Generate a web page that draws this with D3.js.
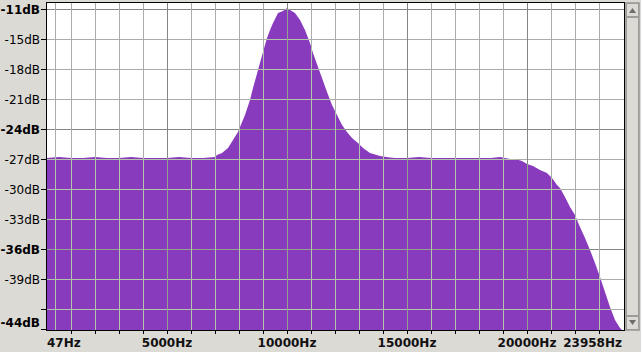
<!DOCTYPE html>
<html>
<head>
<meta charset="UTF-8">
<title>Spectrum</title>
<script src="https://cdn.jsdelivr.net/npm/d3@7"></script>
<style>
    body { margin: 0; background: #dcdad5; }
    svg { display: block; font-family: "DejaVu Sans", sans-serif; }
</style>
</head>
<body>
<div id="chart"></div>
<script>
    // spectrum: frequency (Hz) -> level (dB)
    const freqs = [47, 500, 1000, 1500, 2000, 2500, 3000, 3500, 4000, 4500, 5000, 5500, 6000, 6500, 7000,
        7083, 7292, 7542, 7750, 7958, 8042, 8250, 8458, 8583, 8792, 9000, 9167, 9292, 9417, 9625, 9833,
        10000, 10125, 10333, 10542, 10750, 10958, 11083, 11292, 11458, 11667, 11875, 12083, 12292, 12500,
        12708, 12958, 13167, 13458, 13875, 14292, 14500, 15000, 15500, 16000, 16500, 17000, 17500, 18000,
        18500, 18875, 19292, 19583, 19792, 20000, 20250, 20542, 20833, 21042, 21250, 21375, 21583, 21792,
        22000, 22208, 22417, 22625, 22833, 23042, 23250, 23458, 23667, 23875, 23958];
    const levels = [-26.9, -26.8, -26.9, -26.9, -26.8, -26.9, -26.9, -26.8, -26.9, -26.9, -26.9, -26.8, -26.9, -26.9, -26.8,
        -26.6, -26.4, -25.9, -25.1, -24.3, -23.8, -22.6, -21.1, -19.9, -18.1, -16.3, -14.9, -14.1, -13.4, -12.4, -12.2,
        -11.9, -12.1, -12.4, -13.1, -14.1, -15.4, -16.4, -17.8, -18.9, -20.3, -21.6, -22.6, -23.6, -24.3,
        -24.9, -25.4, -25.9, -26.4, -26.7, -26.85, -26.9, -26.9, -26.8, -26.9, -26.9, -26.9, -26.9, -26.9,
        -26.9, -26.8, -27.0, -27.05, -27.2, -27.5, -27.7, -28.1, -28.4, -28.9, -29.6, -29.9, -30.8, -31.8,
        -32.6, -33.8, -34.9, -36.1, -37.4, -38.8, -40.3, -41.8, -43.1, -43.9, -44.1];

    // axis ticks
    const dbTicks = [-12, -15, -18, -21, -24, -27, -30, -33, -36, -39, -42, -44];
    const dbLabels = ["-11dB", "-15dB", "-18dB", "-21dB", "-24dB", "-27dB", "-30dB", "-33dB", "-36dB", "-39dB", "", "-44dB"];
    const dbBold = [-12, -24, -36, -44];
    const dbGrid = [-12, -15, -18, -21, -24, -27, -30, -33, -36, -39, -42];
    const dbGridMajor = [-12, -24, -36];
    const hzGrid = [330, 1000, 2000, 3000, 4000, 5000, 6000, 7000, 8000, 9000, 10000, 11000, 12000,
        13000, 14000, 15000, 16000, 17000, 18000, 19000, 20000, 21000, 22000, 23000];
    const hzTicks = [1000, 2000, 3000, 4000, 5000, 6000, 7000, 8000, 9000, 10000, 11000, 12000,
        13000, 14000, 15000, 16000, 17000, 18000, 19000, 20000, 21000, 22000, 23000];
    const hzLabels = [47, 5000, 10000, 15000, 20000, 23958];

    const width = 641, height = 352;
    const plot = {left: 46.5, top: 2.5, right: 624.5, bottom: 330.5};

    const svg = d3.select("#chart").append("svg")
        .attr("width", width)
        .attr("height", height);

    svg.append("rect").attr("width", width).attr("height", height).attr("fill", "#dcdad5");

    const x = d3.scaleLinear().domain([0, 24000]).range([47, 623]);
    const y = d3.scaleLinear().domain([-12, -44]).range([9, 329]);

    svg.append("rect")
        .attr("x", plot.left).attr("y", plot.top)
        .attr("width", plot.right - plot.left).attr("height", plot.bottom - plot.top)
        .attr("fill", "#ffffff");

    const data = freqs.map((f, i) => ({f: f, db: levels[i]}));

    const area = d3.area()
        .x((d, i) => i === 0 ? plot.left : x(d.f))
        .y0(plot.bottom)
        .y1(d => y(d.db));

    svg.append("clipPath").attr("id", "fillclip")
        .append("path").attr("d", area(data));

    svg.append("path")
        .attr("d", area(data))
        .attr("fill", "#893bbe");

    // grid, drawn twice: plain grey over white, greenish over the fill
    function drawGrid(g, minor, major) {
        g.selectAll("line.h")
            .data(dbGrid)
            .enter().append("line")
            .attr("class", "h")
            .attr("x1", plot.left).attr("x2", plot.right)
            .attr("y1", d => Math.round(y(d)) + 0.5).attr("y2", d => Math.round(y(d)) + 0.5)
            .attr("stroke", d => dbGridMajor.includes(d) ? major : minor);
        g.selectAll("line.v")
            .data(hzGrid)
            .enter().append("line")
            .attr("class", "v")
            .attr("x1", d => Math.round(x(d)) + 0.5).attr("x2", d => Math.round(x(d)) + 0.5)
            .attr("y1", plot.top).attr("y2", plot.bottom)
            .attr("stroke", d => d % 5000 === 0 ? major : minor);
    }
    drawGrid(svg.append("g"), "#ababab", "#858585");
    drawGrid(svg.append("g").attr("clip-path", "url(#fillclip)"), "#b3c3aa", "#95a08c");

    // frame
    svg.append("rect")
        .attr("x", plot.left).attr("y", plot.top)
        .attr("width", plot.right - plot.left).attr("height", plot.bottom - plot.top)
        .attr("fill", "none").attr("stroke", "#000");

    // left axis
    const yAxis = svg.append("g");
    yAxis.selectAll("line")
        .data(dbTicks)
        .enter().append("line")
        .attr("x1", 41).attr("x2", 46)
        .attr("y1", d => Math.round(y(d)) + 0.5).attr("y2", d => Math.round(y(d)) + 0.5)
        .attr("stroke", "#000");
    yAxis.selectAll("text")
        .data(dbTicks)
        .enter().append("text")
        .attr("x", 40)
        .attr("y", d => Math.min(y(d) + 4.5, 326.5))   // last label is pushed up to stay inside
        .attr("text-anchor", "end")
        .attr("font-size", 12)
        .attr("font-weight", d => dbBold.includes(d) ? "bold" : "normal")
        .attr("fill", "#000")
        .text((d, i) => dbLabels[i]);

    // bottom axis
    const xAxis = svg.append("g");
    xAxis.selectAll("line")
        .data(hzTicks)
        .enter().append("line")
        .attr("x1", d => Math.round(x(d)) + 0.5).attr("x2", d => Math.round(x(d)) + 0.5)
        .attr("y1", 331).attr("y2", 334)
        .attr("stroke", "#000");
    xAxis.selectAll("text")
        .data(hzLabels)
        .enter().append("text")
        .attr("x", (d, i) => i === 0 ? 47 : (i === hzLabels.length - 1 ? 622 : x(d)))
        .attr("y", 347)
        .attr("text-anchor", (d, i) => i === 0 ? "start" : (i === hzLabels.length - 1 ? "end" : "middle"))
        .attr("font-size", 12)
        .attr("font-weight", "bold")
        .attr("fill", "#111")
        .text(d => d + "Hz");

    // scrollbar on the right
    const sb = svg.append("g");
    sb.append("rect").attr("x", 625.5).attr("y", 2.5).attr("width", 14).attr("height", 328)
        .attr("fill", "#d2d0cb").attr("stroke", "#a9a7a2");
    sb.append("rect").attr("x", 626.5).attr("y", 3.5).attr("width", 12).attr("height", 13)
        .attr("fill", "#dcdad5").attr("stroke", "#9e9c98");
    sb.append("rect").attr("x", 626.5).attr("y", 17.5).attr("width", 12).attr("height", 298)
        .attr("fill", "#dcdad5").attr("stroke", "#9e9c98");
    sb.append("rect").attr("x", 626.5).attr("y", 316.5).attr("width", 12).attr("height", 13)
        .attr("fill", "#dcdad5").attr("stroke", "#9e9c98");
    sb.append("path").attr("d", "M629,13 L636,13 L632.5,8 Z").attr("fill", "#6e6d6b");
    sb.append("path").attr("d", "M629,320 L636,320 L632.5,325 Z").attr("fill", "#6e6d6b");
</script>
</body>
</html>
